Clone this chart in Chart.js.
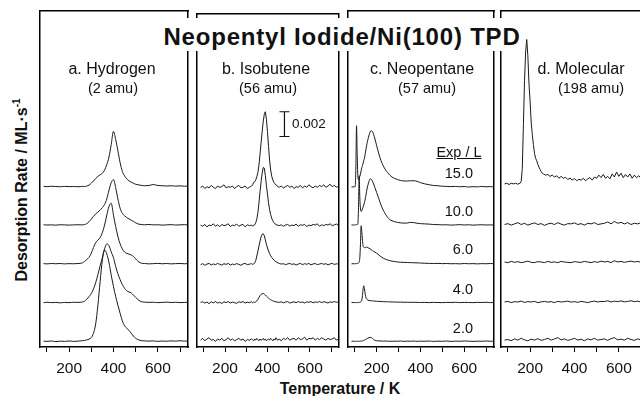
<!DOCTYPE html>
<html>
<head>
<meta charset="utf-8">
<script src="https://cdn.jsdelivr.net/npm/chart.js@4.4.0/dist/chart.umd.min.js"></script>
<style>
  body { margin: 0; width: 640px; height: 396px; overflow: hidden; position: relative; background: #fff; }
  canvas { position: absolute; top: 8px; }
  .txt { position: absolute; white-space: nowrap; font-family: "Liberation Sans", Arial, sans-serif; color: #111; line-height: 1; }
  .mid { transform: translateX(-50%); }
  .name { font-size: 16px; top: 60.5px; }
  .amu { font-size: 14.5px; top: 80.7px; }
  .exp { font-size: 14.5px; right: 167px; }
</style>
</head>
<body>
<canvas id="panelA" width="154" height="369" style="left:37px"></canvas>
<canvas id="panelB" width="154" height="369" style="left:191px"></canvas>
<canvas id="panelC" width="152" height="369" style="left:345px"></canvas>
<canvas id="panelD" width="154" height="369" style="left:498px"></canvas>

<div style="position:absolute;left:160px;top:18px;width:362px;height:33px;background:#fff"></div>
<div class="txt mid" style="left:342px;top:24.7px;font-size:24px;font-weight:bold;letter-spacing:0.8px">Neopentyl Iodide/Ni(100) TPD</div>

<div class="txt mid name" style="left:112px">a. Hydrogen</div>
<div class="txt mid amu" style="left:113px">(2 amu)</div>
<div class="txt mid name" style="left:266px">b. Isobutene</div>
<div class="txt mid amu" style="left:268px">(56 amu)</div>
<div class="txt mid name" style="left:422px">c. Neopentane</div>
<div class="txt mid amu" style="left:427px">(57 amu)</div>
<div class="txt mid name" style="left:581px">d. Molecular</div>
<div class="txt mid amu" style="left:591px">(198 amu)</div>

<div class="txt" style="left:292px;top:116.6px;font-size:13.5px">0.002</div>

<div class="txt mid" style="left:459px;top:144.7px;font-size:14.5px;text-decoration:underline">Exp / L</div>
<div class="txt exp" style="top:165.7px">15.0</div>
<div class="txt exp" style="top:203.7px">10.0</div>
<div class="txt exp" style="top:241.7px">6.0</div>
<div class="txt exp" style="top:281.7px">4.0</div>
<div class="txt exp" style="top:320.7px">2.0</div>

<div class="txt mid" style="left:340px;top:380.5px;font-size:16px;font-weight:bold">Temperature / K</div>
<div class="txt" style="left:21px;top:190px;font-size:16px;font-weight:bold;transform:translate(-50%,-50%) rotate(-90deg)">Desorption Rate / ML·s<sup style="font-size:10px">-1</sup></div>

<script>
// y values in units of 0.001 ML/s, x in K
const tickTemps = [100, 200, 300, 400, 500, 600, 700];
const tickLabels = ["", "200", "", "400", "", "600", ""];
const exposures = ["2.0", "4.0", "6.0", "10.0", "15.0"];
const traceOffsets = [0.45, 3.55, 6.65, 9.75, 12.8];
const scaleBarValue = 2; // 0.002 ML/s
const scaleBarBase = 17;
const scaleBarTemp = 480;

// a. Hydrogen (2 amu)
const aTemps = [85, 100, 120, 140, 160, 180, 200, 220, 240, 260,
  270, 280, 290, 300, 310, 320, 330, 340, 350, 360,
  370, 380, 390, 400, 410, 420, 430, 440, 450, 460,
  470, 480, 490, 500, 510, 520, 530, 540, 560, 580,
  600, 620, 640, 660, 680, 700, 720, 735];
const ha2 = [0.02, 0.0, 0.03, -0.02, 0.02, 0.0, 0.03, 0.0, 0.02, 0.05,
  0.08, 0.12, 0.18, 0.3, 0.65, 1.4, 2.9, 4.8, 6.5, 7.3,
  7.0, 6.3, 5.3, 4.4, 3.6, 2.9, 2.25, 1.65, 1.25, 1.05,
  0.88, 0.65, 0.42, 0.25, 0.15, 0.08, 0.05, 0.04, 0.02, 0.04,
  0.0, 0.03, 0.01, 0.04, 0.02, 0.05, 0.02, 0.03];
const ha4 = [0.0, 0.03, 0.0, 0.02, -0.02, 0.02, 0.0, 0.03, 0.02, 0.05,
  0.12, 0.28, 0.48, 0.72, 1.1, 1.6, 2.25, 2.95, 3.6, 4.3,
  4.7, 4.55, 4.05, 3.6, 2.9, 2.3, 1.85, 1.45, 1.15, 0.95,
  0.85, 0.78, 0.6, 0.42, 0.25, 0.12, 0.06, 0.04, 0.02, 0.03,
  0.0, 0.02, 0.04, 0.01, 0.03, 0.0, 0.02, 0.03];
const ha6 = [0.02, 0.0, 0.03, 0.01, 0.03, 0.0, 0.02, 0.01, 0.03, 0.08,
  0.2, 0.35, 0.52, 0.85, 1.3, 1.7, 1.9, 2.1, 2.5, 3.1,
  3.9, 4.6, 4.85, 3.9, 3.0, 2.2, 1.6, 1.2, 0.95, 0.85,
  0.78, 0.72, 0.6, 0.4, 0.22, 0.1, 0.04, 0.03, 0.0, 0.02,
  0.04, 0.01, 0.03, 0.0, 0.02, 0.03, 0.01, 0.02];
const ha10 = [0.03, 0.01, 0.02, 0.0, 0.03, 0.02, 0.0, 0.02, 0.03, 0.02,
  0.05, 0.12, 0.28, 0.48, 0.7, 0.9, 1.05, 1.2, 1.4, 1.65,
  2.1, 2.8, 3.4, 3.65, 3.0, 2.1, 1.35, 0.95, 0.75, 0.6,
  0.5, 0.4, 0.3, 0.18, 0.1, 0.06, 0.04, 0.03, 0.05, 0.02,
  0.03, 0.0, 0.02, 0.04, 0.01, 0.02, 0.04, 0.02];
const ha15 = [0.05, 0.03, 0.06, 0.04, 0.02, 0.05, 0.03, 0.04, 0.02, 0.05,
  0.04, 0.08, 0.15, 0.3, 0.48, 0.68, 0.85, 0.98, 1.1, 1.35,
  1.8, 2.4, 3.4, 4.45, 3.8, 2.9, 1.95, 1.25, 0.9, 0.65,
  0.5, 0.38, 0.3, 0.22, 0.18, 0.15, 0.12, 0.1, 0.12, 0.2,
  0.12, 0.1, 0.08, 0.1, 0.07, 0.09, 0.06, 0.08];

// b. Isobutene (56 amu)
const bTemps = [85, 95, 105, 115, 125, 135, 145, 155, 165, 175,
  185, 195, 205, 215, 225, 235, 245, 255, 265, 275,
  285, 295, 305, 315, 325,
  330, 335, 340, 345, 350, 355, 360, 365, 370, 375,
  380, 385, 390, 395, 400, 405, 410, 415, 420, 425,
  430, 435, 440, 445, 450,
  455, 465, 475, 485, 495, 505, 515, 525, 535, 545,
  555, 565, 575, 585, 595, 605, 615, 625, 635, 645,
  655, 665, 675, 685, 695, 705, 715, 725, 735];
const ib2 = [0.1, 0.25, 0.05, 0.2, 0.3, 0.1, 0.15, 0.0, 0.2, 0.1,
  0.25, 0.05, 0.15, 0.3, 0.1, 0.2, 0.05, 0.15, 0.25, 0.1,
  0.2, 0.0, 0.15, 0.1, 0.2,
  0.15, 0.05, 0.2, 0.1, 0.25, 0.15, 0.05, 0.2, 0.1, 0.15,
  0.25, 0.1, 0.2, 0.05, 0.15, 0.2, 0.1, 0.25, 0.15, 0.05,
  0.2, 0.1, 0.3, 0.15, 0.1,
  0.2, 0.05, 0.25, 0.15, 0.3, 0.1, 0.2, 0.25, 0.1, 0.3,
  0.15, 0.2, 0.35, 0.1, 0.25, 0.2, 0.3, 0.1, 0.25, 0.15,
  0.3, 0.2, 0.1, 0.25, 0.15, 0.2, 0.3, 0.1, 0.2];
const ib4 = [0.05, 0.1, 0.0, 0.08, -0.05, 0.1, 0.02, 0.12, 0.0, 0.06,
  -0.03, 0.1, 0.04, 0.12, 0.0, 0.08, 0.03, -0.02, 0.1, 0.05,
  0.12, 0.0, 0.07, 0.03, 0.1,
  0.02, 0.08, 0.05, 0.1, 0.18, 0.3, 0.45, 0.6, 0.7, 0.75,
  0.78, 0.72, 0.65, 0.56, 0.48, 0.4, 0.33, 0.27, 0.22, 0.18,
  0.15, 0.1, 0.12, 0.06, 0.08,
  0.05, 0.1, 0.02, 0.08, 0.12, 0.0, 0.06, 0.1, 0.03, 0.12,
  0.05, 0.08, 0.0, 0.1, 0.06, 0.12, 0.02, 0.09, 0.05, 0.13,
  0.04, 0.1, 0.07, 0.0, 0.1, 0.05, 0.12, 0.06, 0.09];
const ib6 = [0.0, 0.08, -0.05, 0.05, 0.1, -0.02, 0.06, 0.0, 0.1, 0.03,
  -0.04, 0.08, 0.02, 0.1, -0.03, 0.05, 0.0, 0.09, 0.02, -0.05,
  0.06, 0.1, 0.0, 0.04, 0.08,
  0.02, 0.05, 0.15, 0.35, 0.7, 1.1, 1.5, 1.9, 2.25, 2.45,
  2.5, 2.35, 2.0, 1.65, 1.35, 1.1, 0.9, 0.72, 0.58, 0.47,
  0.38, 0.3, 0.24, 0.18, 0.14,
  0.1, 0.05, 0.08, 0.0, 0.06, 0.1, 0.02, 0.07, -0.03, 0.05,
  0.1, 0.0, 0.08, 0.03, 0.1, -0.02, 0.06, 0.09, 0.0, 0.05,
  0.1, 0.03, 0.08, -0.02, 0.06, 0.1, 0.02, 0.07, 0.04];
const ib10 = [0.1, 0.0, 0.15, -0.05, 0.1, 0.05, 0.2, 0.0, 0.12, -0.03,
  0.15, 0.05, 0.1, 0.2, -0.02, 0.1, 0.05, 0.18, 0.0, 0.1,
  0.15, -0.05, 0.12, 0.05, 0.1,
  0.0, 0.1, 0.12, 0.3, 0.6, 1.1, 1.9, 2.8, 3.6, 4.3,
  4.75, 4.7, 4.1, 3.3, 2.6, 1.9, 1.35, 0.95, 0.65, 0.45,
  0.3, 0.2, 0.15, 0.08, 0.1,
  0.05, 0.12, 0.0, 0.1, 0.15, 0.02, 0.1, 0.05, 0.18, 0.0,
  0.12, 0.08, 0.15, -0.02, 0.1, 0.05, 0.15, 0.1, 0.2, 0.0,
  0.12, 0.05, 0.15, 0.1, 0.2, 0.05, 0.12, 0.18, 0.08];
const ib15 = [0.1, 0.2, 0.0, 0.15, 0.05, 0.25, 0.1, 0.0, 0.2, 0.1,
  0.15, 0.3, 0.05, 0.15, 0.1, 0.2, 0.0, 0.15, 0.25, 0.05,
  0.1, 0.2, 0.0, 0.1, 0.2,
  0.3, 0.5, 0.55, 0.7, 0.95, 1.3, 1.9, 2.8, 3.7, 4.6,
  5.4, 6.0, 6.2, 5.6, 4.6, 3.4, 2.3, 1.5, 1.0, 0.7,
  0.5, 0.38, 0.3, 0.22, 0.15,
  0.1, 0.2, 0.05, 0.15, 0.25, 0.1, 0.2, 0.0, 0.15, 0.1,
  0.25, 0.05, 0.2, 0.1, 0.3, 0.15, 0.05, 0.2, 0.1, 0.25,
  0.15, 0.3, 0.1, 0.2, 0.35, 0.15, 0.25, 0.1, 0.2];

// c. Neopentane (57 amu)
const cTemps = [85, 92, 98, 102, 105, 108, 111, 114, 117, 120,
  123, 126, 129, 132, 135, 138, 141, 144, 148, 152,
  156, 160, 165, 170, 175, 180, 186, 192, 200, 210,
  220, 230, 240, 250, 260, 270, 280, 295, 310, 325,
  340, 355, 370, 385, 400, 420, 440, 460, 480, 500,
  520, 540, 560, 580, 600, 620, 640, 660, 680, 700,
  720, 735];
const np2 = [0.0, 0.02, 0.0, 0.01, 0.0, 0.02, 0.01, 0.0, 0.02, 0.01,
  0.0, 0.02, 0.01, 0.03, 0.04, 0.06, 0.08, 0.1, 0.14, 0.18,
  0.22, 0.26, 0.3, 0.32, 0.31, 0.25, 0.15, 0.08, 0.05, 0.04,
  0.03, 0.02, 0.03, 0.01, 0.02, 0.0, 0.02, 0.01, 0.03, 0.0,
  0.02, 0.01, 0.03, 0.0, 0.02, 0.01, 0.03, 0.0, 0.02, 0.01,
  0.03, 0.0, 0.02, 0.01, 0.03, 0.02, 0.0, 0.02, 0.01, 0.03,
  0.01, 0.02];
const np4 = [0.02, 0.0, 0.01, 0.0, 0.02, 0.0, 0.01, 0.02, 0.0, 0.02,
  0.03, 0.05, 0.08, 0.2, 0.55, 1.1, 1.35, 1.15, 0.65, 0.35,
  0.25, 0.2, 0.18, 0.16, 0.15, 0.14, 0.13, 0.12, 0.11, 0.1,
  0.09, 0.08, 0.07, 0.07, 0.06, 0.05, 0.05, 0.04, 0.04, 0.03,
  0.03, 0.02, 0.03, 0.02, 0.01, 0.02, 0.0, 0.02, 0.01, 0.0,
  0.02, 0.01, 0.03, 0.0, 0.02, 0.01, 0.0, 0.02, 0.01, 0.03,
  0.0, 0.02];
const np6 = [0.0, 0.02, 0.0, 0.03, 0.01, 0.02, 0.03, 0.05, 0.08, 0.15,
  0.5, 1.6, 3.05, 2.6, 1.9, 1.45, 1.32, 1.3, 1.3, 1.35,
  1.33, 1.3, 1.25, 1.2, 1.13, 1.07, 1.0, 0.94, 0.85, 0.72,
  0.57, 0.46, 0.37, 0.31, 0.26, 0.22, 0.19, 0.15, 0.13, 0.12,
  0.11, 0.1, 0.09, 0.08, 0.07, 0.05, 0.04, 0.03, 0.04, 0.02,
  0.03, 0.01, 0.02, 0.0, 0.03, 0.01, 0.02, 0.0, 0.02, 0.01,
  0.03, 0.01];
const np10 = [0.02, 0.0, 0.03, 0.0, 0.02, 0.05, 0.05, 0.1, 1.4, 3.95,
  2.2, 1.3, 1.1, 1.15, 1.3, 1.45, 1.6, 1.8, 2.1, 2.5,
  2.9, 3.2, 3.5, 3.7, 3.68, 3.55, 3.3, 3.0, 2.6, 2.1,
  1.6, 1.2, 0.88, 0.62, 0.45, 0.35, 0.28, 0.22, 0.18, 0.16,
  0.17, 0.22, 0.2, 0.15, 0.12, 0.1, 0.08, 0.05, 0.04, 0.02,
  0.03, 0.0, 0.02, 0.04, 0.01, 0.03, 0.0, 0.02, 0.03, 0.01,
  0.02, 0.0];
const np15 = [0.0, 0.02, 0.0, 0.05, 1.6, 4.9, 2.6, 0.9, 0.6, 0.7,
  0.85, 1.05, 1.3, 1.55, 1.7, 1.9, 2.1, 2.3, 2.7, 3.1,
  3.5, 3.8, 4.15, 4.4, 4.5, 4.45, 4.2, 3.85, 3.3, 2.65,
  2.1, 1.7, 1.38, 1.15, 0.95, 0.8, 0.7, 0.6, 0.52, 0.48,
  0.48, 0.5, 0.5, 0.45, 0.35, 0.25, 0.18, 0.12, 0.1, 0.06,
  0.05, 0.03, 0.05, 0.02, 0.04, 0.0, 0.03, 0.01, 0.04, 0.02,
  0.03, 0.01];

// d. Molecular (198 amu)
const dTemps = [85, 95, 105, 115, 125, 135, 145,
  150, 155, 160, 165, 170, 175, 180, 185, 190, 195,
  200, 205, 210, 215, 220, 225, 230, 235, 240, 245,
  250, 255, 260,
  270, 280, 290, 300, 310, 320, 330, 340, 350, 360,
  370, 380, 390, 400, 410, 420, 430, 440, 450, 460,
  470, 480, 490, 500, 510, 520, 530, 540, 550, 560,
  570, 580, 590, 600, 610, 620, 630, 640, 650, 660,
  670, 680, 690, 700, 710, 720, 730, 735];
const md15 = [0.25, 0.3, 0.2, 0.3, 0.25, 0.3, 0.22,
  0.28, 0.3, 0.45, 1.5, 5.0, 8.5, 10.8, 11.8, 10.5, 8.3,
  6.9, 5.2, 4.2, 3.4, 2.7, 2.3, 2.1, 1.8, 1.6, 1.4,
  1.25, 1.1, 1.05,
  0.95, 1.0, 0.85, 0.95, 0.8, 0.9, 0.7, 0.85, 0.7, 0.78,
  0.6, 0.72, 0.55, 0.68, 0.5, 0.62, 0.55, 0.7, 0.5, 0.65,
  0.75, 0.55, 0.8, 0.7, 0.95, 0.75, 1.0, 0.7, 0.85, 0.65,
  1.05, 0.8, 1.2, 0.85, 1.1, 0.75, 1.0, 0.8, 1.05, 0.7,
  0.95, 0.75, 0.9, 0.7, 0.85, 0.65, 0.8, 0.7];
const dFlatTemps = [85, 100, 115, 130, 145, 160, 175, 190, 205, 220,
  235, 250, 265, 280, 295, 310, 325, 340, 355, 370,
  385, 400, 415, 430, 445, 460, 475, 490, 505, 520,
  535, 550, 565, 580, 595, 610, 625, 640, 655, 670,
  685, 700, 715, 730];
const md2 = [0.1, 0.15, 0.05, 0.2, 0.1, 0.25, 0.12, 0.05, 0.18, 0.1,
  0.22, 0.08, 0.15, 0.25, 0.1, 0.2, 0.3, 0.12, 0.2, 0.08,
  0.15, 0.25, 0.1, 0.18, 0.05, 0.2, 0.12, 0.25, 0.1, 0.15,
  0.2, 0.08, 0.22, 0.3, 0.12, 0.18, 0.1, 0.25, 0.15, 0.08,
  0.2, 0.12, 0.18, 0.1];
const md4 = [0.05, 0.1, 0.0, 0.08, 0.05, 0.12, 0.02, 0.08, 0.05, 0.1,
  0.0, 0.06, 0.1, 0.04, 0.08, 0.0, 0.1, 0.05, 0.08, 0.12,
  0.04, 0.08, 0.02, 0.1, 0.06, 0.0, 0.08, 0.12, 0.05, 0.1,
  0.08, 0.15, 0.05, 0.12, 0.08, 0.14, 0.06, 0.1, 0.15, 0.08,
  0.12, 0.05, 0.1, 0.08];
const md6 = [0.15, 0.1, 0.2, 0.12, 0.18, 0.1, 0.15, 0.22, 0.12, 0.1,
  0.18, 0.15, 0.1, 0.2, 0.12, 0.16, 0.1, 0.2, 0.15, 0.12,
  0.1, 0.18, 0.14, 0.12, 0.2, 0.15, 0.1, 0.18, 0.12, 0.22,
  0.15, 0.2, 0.1, 0.25, 0.15, 0.2, 0.12, 0.18, 0.22, 0.15,
  0.2, 0.12, 0.18, 0.15];
const md10 = [0.05, 0.12, 0.0, 0.1, 0.2, 0.05, 0.15, 0.0, 0.1, 0.18,
  0.05, 0.12, -0.02, 0.1, 0.15, 0.05, 0.2, 0.08, 0.0, 0.12,
  0.1, 0.18, 0.05, 0.12, 0.0, 0.15, 0.1, 0.2, 0.05, 0.1,
  0.15, 0.25, 0.1, 0.3, 0.15, 0.22, 0.1, 0.2, 0.05, 0.15,
  0.1, 0.2, 0.12, 0.05];

Chart.defaults.font.family = "'Liberation Sans', Arial, sans-serif";
Chart.defaults.color = "#111";

function traceDatasets(traces, smooth) {
  // traces in exposure order, each [temps, values]
  return traces.map(([temps, values], i) => ({
    label: exposures[i] + " L",
    data: temps.map((t, j) => ({ x: t, y: values[j] + traceOffsets[i] })),
    borderColor: "#1a1a1a",
    borderWidth: 1,
    pointRadius: 0,
    tension: 0,
    cubicInterpolationMode: smooth ? "monotone" : "default",
  }));
}

function scaleBarDataset() {
  return {
    label: "0.002",
    data: [
      { x: scaleBarTemp, y: scaleBarBase },
      { x: scaleBarTemp, y: scaleBarBase + scaleBarValue },
    ],
    borderColor: "#111",
    borderWidth: 1.2,
    pointStyle: "line",
    pointRadius: 5,
    pointBorderWidth: 1.2,
    pointBorderColor: "#111",
  };
}

function makePanel(canvasId, datasets) {
  const frame = { display: true, color: "#000", width: 1.5 };
  new Chart(document.getElementById(canvasId), {
    type: "line",
    data: { datasets: datasets },
    options: {
      responsive: false,
      animation: false,
      devicePixelRatio: 1,
      layout: { padding: { top: 3, left: 3, right: 3, bottom: 0 } },
      plugins: { legend: { display: false }, tooltip: { enabled: false } },
      scales: {
        x: {
          type: "linear",
          position: "bottom",
          min: 69,
          max: 736,
          afterBuildTicks: (axis) => {
            axis.ticks = tickTemps.map((v) => ({ value: v }));
          },
          afterFit: (axis) => {
            axis.height = 30;
          },
          ticks: {
            autoSkip: false,
            maxRotation: 0,
            padding: 7,
            font: { size: 15.5 },
            color: "#111",
            callback: (value) => tickLabels[tickTemps.indexOf(value)],
          },
          grid: { drawOnChartArea: false, drawTicks: true, tickLength: 5, color: "#000", lineWidth: 1 },
          border: frame,
        },
        xTop: {
          type: "linear",
          axis: "x",
          position: "top",
          min: 69,
          max: 736,
          ticks: { display: false },
          grid: { display: false, drawTicks: false },
          border: frame,
        },
        y: {
          type: "linear",
          min: 0,
          max: 26.88,
          ticks: { display: false },
          grid: { display: false, drawTicks: false },
          border: frame,
        },
        yRight: {
          type: "linear",
          axis: "y",
          position: "right",
          min: 0,
          max: 26.88,
          ticks: { display: false },
          grid: { display: false, drawTicks: false },
          border: frame,
        },
      },
    },
  });
}

makePanel("panelA", traceDatasets(
  [[aTemps, ha2], [aTemps, ha4], [aTemps, ha6], [aTemps, ha10], [aTemps, ha15]], true));
makePanel("panelB", traceDatasets(
  [[bTemps, ib2], [bTemps, ib4], [bTemps, ib6], [bTemps, ib10], [bTemps, ib15]], false)
  .concat([scaleBarDataset()]));
makePanel("panelC", traceDatasets(
  [[cTemps, np2], [cTemps, np4], [cTemps, np6], [cTemps, np10], [cTemps, np15]], true));
makePanel("panelD", traceDatasets(
  [[dFlatTemps, md2], [dFlatTemps, md4], [dFlatTemps, md6], [dFlatTemps, md10], [dTemps, md15]], false));
</script>
</body>
</html>
